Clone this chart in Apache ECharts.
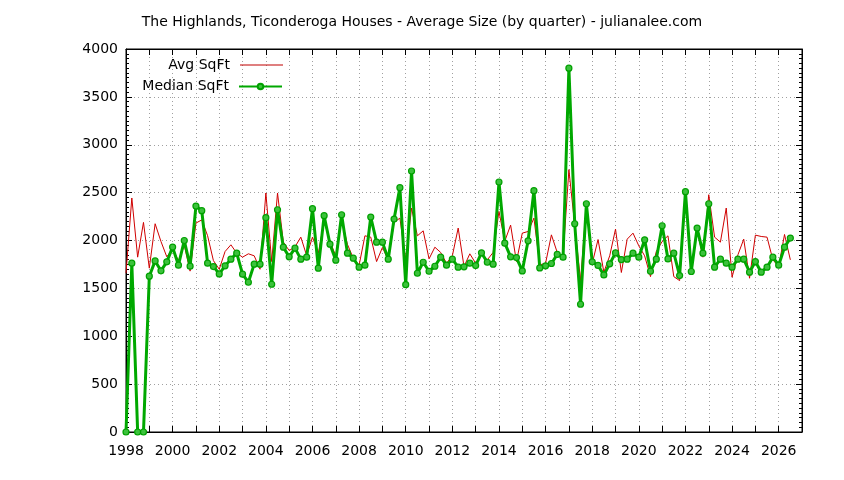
<!DOCTYPE html>
<html>
<head>
<meta charset="utf-8">
<script src="https://cdn.jsdelivr.net/npm/echarts@6/dist/echarts.min.js"></script>
<style>
html,body{margin:0;padding:0;background:#fff;}
#chart{width:844px;height:480px;}
</style>
</head>
<body>
<div id="chart"></div>
<script>
// Quarterly data, first quarter = 1998 Q1
const firstYear = 1998;
const xTickLabels = [1998, 2000, 2002, 2004, 2006, 2008, 2010, 2012, 2014, 2016, 2018, 2020, 2022, 2024, 2026];
const yTickLabels = [0, 500, 1000, 1500, 2000, 2500, 3000, 3500, 4000];

const avgSqFt = [
  1658, 2444, 1826, 2189, 1711, 2175, 1990, 1830, 1910, 1790, 1950, 1680,
  2182, 2215, 2050, 1790, 1700, 1885, 1955, 1868, 1826, 1861, 1840, 1700,
  2496, 1780, 2496, 1983, 1895, 1934, 2035, 1843, 2035, 1868, 2199, 1990,
  1840, 2217, 1960, 1815, 1742, 2049, 2035, 1780, 1927, 1798, 2189, 2234,
  1800, 2339, 2049, 2101, 1808, 1930, 1875, 1763, 1840, 2130, 1728, 1861,
  1763, 1850, 1798, 1875, 2304, 1993, 2161, 1780, 2077, 2094, 2234, 1745,
  1763, 2059, 1875, 1835, 2740, 2160, 1580, 2370, 1760, 2010, 1670, 1840,
  2119, 1666, 2014, 2077, 1944, 1840, 1623, 1885, 1990, 2049, 1623, 1581,
  2461, 1720, 2112, 1826, 2478, 2035, 1983, 2339, 1617, 1850, 2014, 1606,
  2056, 2042, 2035, 1798, 1728, 2063, 1798
];

const medianSqFt = [
  0, 1763, 0, 0, 1627, 1787, 1683, 1777, 1931, 1742, 2000, 1732,
  2360, 2311, 1763, 1728, 1651, 1735, 1805, 1868, 1648, 1564, 1753, 1753,
  2238, 1543, 2321, 1930, 1829, 1920, 1805, 1826, 2332, 1711, 2259, 1962,
  1794, 2269, 1868, 1815, 1721, 1742, 2245, 1983, 1983, 1805, 2224, 2552,
  1539, 2726, 1658, 1773, 1679, 1731, 1826, 1742, 1805, 1721, 1725, 1763,
  1738, 1871, 1773, 1753, 2611, 1972, 1829, 1822, 1682, 1997, 2520, 1714,
  1735, 1760, 1855, 1826, 3800, 2175, 1334, 2384, 1777, 1740, 1640, 1756,
  1870, 1801, 1805, 1868, 1826, 2007, 1679, 1805, 2154, 1808, 1868, 1634,
  2510, 1676, 2130, 1868, 2384, 1721, 1805, 1763, 1721, 1805, 1805, 1669,
  1780, 1669, 1721, 1826, 1742, 1930, 2025
];

// quarter positions (categories) on a time scale in years
const quarterX = avgSqFt.map((_, i) => firstYear + i / 4);
const avgData = avgSqFt.map((v, i) => [quarterX[i], v]);
const medianData = medianSqFt.map((v, i) => [quarterX[i], v]);

const FONT = "'DejaVu Sans', Verdana, sans-serif";
const FS = 14;
const gridDots = { show: true, lineStyle: { color: '#a0a0a0', type: [1, 3], width: 1 } };

const chart = echarts.init(document.getElementById('chart'), null, { renderer: 'canvas' });
chart.setOption({
  animation: false,
  backgroundColor: '#fff',
  title: {
    text: 'The Highlands, Ticonderoga Houses - Average Size (by quarter) - julianalee.com',
    left: 'center', top: 10,
    textStyle: { fontFamily: FONT, fontSize: FS, fontWeight: 'normal', color: '#000' }
  },
  legend: [
    {
      data: [{ name: 'Avg SqFt', icon: 'path://M0,0 L43,0 L43,1 L0,1 Z', itemStyle: { color: '#c00000' } }],
      orient: 'vertical', align: 'right',
      right: 561, top: 58, padding: 0,
      itemWidth: 43, itemHeight: 14,
      textStyle: { fontFamily: FONT, fontSize: FS, color: '#000', padding: [0, 5, 0, 0] }
    },
    {
      data: ['Median SqFt'], orient: 'vertical', align: 'right',
      right: 561, top: 79.5, padding: 0,
      itemWidth: 43, itemHeight: 7,
      textStyle: { fontFamily: FONT, fontSize: FS, color: '#000', padding: [0, 5, 0, 0] }
    }
  ],
  grid: { left: 126, right: 42, top: 49, bottom: 48, show: true, borderColor: '#000', borderWidth: 1, backgroundColor: 'transparent' },
  xAxis: [
    {
      type: 'value', min: firstYear, max: 2027, interval: 1, position: 'bottom',
      axisLine: { show: true, onZero: false, lineStyle: { color: '#000', width: 1 } },
      axisTick: { show: true, inside: true, length: 6, lineStyle: { color: '#000' } },
      axisLabel: {
        margin: 12, fontFamily: FONT, fontSize: FS, color: '#000',
        formatter: v => (xTickLabels.indexOf(v) >= 0 ? String(v) : '')
      },
      splitLine: gridDots
    },
    {
      type: 'value', min: firstYear, max: 2027, interval: 1, position: 'top',
      axisLine: { show: true, onZero: false, lineStyle: { color: '#000', width: 1 } },
      axisTick: { show: true, inside: true, length: 6, lineStyle: { color: '#000' } },
      axisLabel: { show: false },
      splitLine: { show: false }
    }
  ],
  yAxis: [
    {
      type: 'value', min: 0, max: 4000, interval: 500, position: 'left',
      axisLine: { show: true, onZero: false, lineStyle: { color: '#000', width: 1 } },
      axisTick: { show: true, inside: true, length: 6, lineStyle: { color: '#000' } },
      minorTick: { show: true, splitNumber: 10, length: 3, lineStyle: { color: '#000' } },
      axisLabel: {
        margin: 8, fontFamily: FONT, fontSize: FS, color: '#000',
        formatter: v => (yTickLabels.indexOf(v) >= 0 ? String(v) : '')
      },
      splitLine: gridDots
    },
    {
      type: 'value', min: 0, max: 4000, interval: 500, position: 'right',
      axisLine: { show: true, onZero: false, lineStyle: { color: '#000', width: 1 } },
      axisTick: { show: true, inside: true, length: 6, lineStyle: { color: '#000' } },
      minorTick: { show: true, splitNumber: 10, length: 3, lineStyle: { color: '#000' } },
      axisLabel: { show: false },
      splitLine: { show: false }
    }
  ],
  series: [
    {
      name: 'Avg SqFt', type: 'line', data: avgData,
      xAxisIndex: 0, yAxisIndex: 0,
      symbol: 'none', color: '#d00000',
      lineStyle: { color: '#d00000', width: 1 },
      z: 2
    },
    {
      name: 'Median SqFt', type: 'line', data: medianData,
      xAxisIndex: 0, yAxisIndex: 0,
      symbol: 'circle', symbolSize: 6, showAllSymbol: true,
      color: '#00a800',
      lineStyle: { color: '#00a800', width: 3 },
      itemStyle: { color: '#3cc23c', borderColor: '#00a000', borderWidth: 1.2 },
      z: 3
    }
  ]
});
</script>
</body>
</html>
